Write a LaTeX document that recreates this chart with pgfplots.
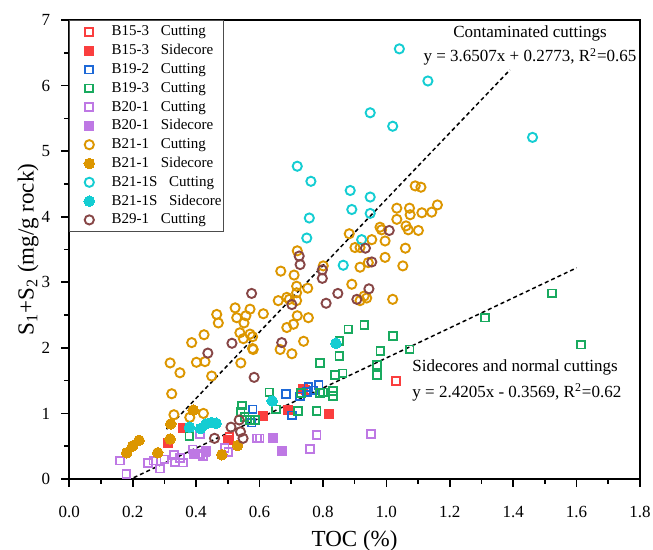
\documentclass[border=0pt]{standalone}
\usepackage{fontspec}
\setmainfont{Liberation Serif}
\usepackage{pgfplots}
\pgfplotsset{compat=1.18}

\definecolor{cRed}{RGB}{250,62,62}
\definecolor{cBlue}{RGB}{30,105,215}
\definecolor{cGreen}{RGB}{25,170,95}
\definecolor{cLav}{RGB}{190,120,228}
\definecolor{cOra}{RGB}{220,150,0}
\definecolor{cCya}{RGB}{20,205,210}
\definecolor{cBro}{RGB}{135,70,70}

\pgfplotsset{
  osq/.style={only marks, mark=square, mark size=1.95pt, color=#1, mark options={line width=0.9pt}},
  fsq/.style={only marks, mark=square*, mark size=2.25pt, color=#1, mark options={line width=0pt, fill=#1}},
  ocirc/.style={only marks, mark=o, mark size=2.3pt, color=#1, mark options={line width=0.95pt}},
  fcirc/.style={only marks, mark=*, mark size=2.65pt, color=#1, mark options={line width=0pt, fill=#1}},
}

\begin{document}
\begin{tikzpicture}
\begin{axis}[
    scale only axis,
    width=285.35pt, height=229.5pt,
    xmin=0, xmax=1.8, ymin=0, ymax=7,
    xtick={0,0.2,0.4,0.6,0.8,1.0,1.2,1.4,1.6,1.8},
    ytick={0,1,2,3,4,5,6,7},
    minor x tick num=1, minor y tick num=1,
    xtick pos=bottom, ytick pos=left,
    tick align=outside,
    major tick length=4pt, minor tick length=2.5pt,
    axis line style={line width=0.9pt},
    every tick/.style={black, line width=0.8pt},
    /pgf/number format/assume math mode=true,
    xticklabel style={yshift=-6pt, /pgf/number format/.cd, fixed, fixed zerofill, precision=1},
    yticklabel style={xshift=-2pt},
    every tick label/.append style={font=\fontsize{8.5}{10}\selectfont},
    xlabel={TOC (\%)},
    ylabel={S\textsubscript{1}+S\textsubscript{2} (mg/g rock)},
    every axis x label/.style={at={(axis description cs:0.5,-0.135)}, anchor=center, font=\fontsize{11.5}{13}\selectfont},
    every axis y label/.style={at={(axis description cs:-0.072,0.5)}, anchor=center, rotate=90, font=\fontsize{11.5}{13}\selectfont},
    legend image code/.code={\path (0pt,0pt) (19.4pt,0pt); \draw[#1] plot coordinates {(8.5pt,0pt)};},
    legend style={at={(0,1)}, anchor=north west, draw=black!70, line width=0.5pt,
      font=\fontsize{7.5}{9}\selectfont, inner xsep=1pt, inner ysep=2.2pt, row sep=2.4pt,
      nodes={inner sep=0pt, text height=5.5pt, text depth=1.5pt}},
    legend cell align=left,
]

\addplot[osq=cRed] coordinates {(1.031,1.49) (0.745,1.36) (0.505,0.64)};
\addlegendentry{B15-3\hspace{0.78em}Cutting}

\addplot[fsq=cRed] coordinates {(0.310,0.55) (0.358,0.78) (0.502,0.60) (0.612,0.965) (0.691,1.05) (0.738,1.38) (0.820,0.99)};
\addlegendentry{B15-3\hspace{0.78em}Sidecore}

\addplot[osq=cBlue] coordinates {(0.575,0.86) (0.578,1.06) (0.684,1.30) (0.702,0.97) (0.728,1.26) (0.750,1.33) (0.754,1.40) (0.770,1.35) (0.786,1.43)};
\addlegendentry{B19-2\hspace{0.78em}Cutting}

\addplot[osq=cGreen] coordinates {
  (0.379,0.65) (0.544,1.12) (0.540,1.02) (0.553,0.95) (0.570,0.90) (0.586,0.90)
  (0.631,1.32) (0.652,1.06) (0.722,1.04) (0.730,1.31) (0.780,1.04) (0.791,1.31)
  (0.801,1.32) (0.831,1.34) (0.831,1.27) (0.791,1.77) (0.838,1.59) (0.862,1.61)
  (0.852,1.88) (0.852,2.10) (0.880,2.28) (0.931,2.35) (0.970,1.59) (0.970,1.74)
  (0.981,1.95) (1.021,2.18) (1.073,1.975) (1.311,2.46) (1.522,2.83) (1.613,2.05)};
\addlegendentry{B19-3\hspace{0.78em}Cutting}

\addplot[osq=cLav] coordinates {
  (0.160,0.28) (0.180,0.08) (0.248,0.24) (0.265,0.28) (0.287,0.16) (0.300,0.30)
  (0.331,0.37) (0.333,0.26) (0.359,0.25) (0.349,0.32) (0.389,0.45) (0.412,0.68)
  (0.412,0.38) (0.421,0.35) (0.430,0.41) (0.490,0.47) (0.502,0.41) (0.592,0.62)
  (0.600,0.62) (0.759,0.46) (0.780,0.67) (0.951,0.69)};
\addlegendentry{B20-1\hspace{0.78em}Cutting}

\addplot[fsq=cLav] coordinates {(0.641,0.62) (0.670,0.42) (0.431,0.43) (0.392,0.38)};
\addlegendentry{B20-1\hspace{0.78em}Sidecore}

\addplot[ocirc=cOra] coordinates {
  (1.091,4.47) (1.109,4.45) (1.033,4.13) (1.073,4.13) (1.075,4.03) (1.112,4.06)
  (1.143,4.07) (1.161,4.18) (1.033,3.96) (1.062,3.86) (0.980,3.84) (0.985,3.80)
  (1.069,3.80) (1.101,3.79) (0.954,3.65) (0.996,3.63) (0.883,3.74) (0.901,3.53)
  (0.917,3.53) (1.060,3.52) (0.996,3.38) (0.943,3.30) (0.917,3.23) (1.052,3.25)
  (0.719,3.48) (0.667,3.17) (0.709,3.11) (0.717,2.94) (0.752,2.91) (0.801,3.25)
  (0.891,2.97) (0.930,2.79) (0.938,2.76) (0.917,2.72) (1.020,2.74) (0.717,2.72)
  (0.694,2.74) (0.659,2.72) (0.612,2.52) (0.719,2.49) (0.754,2.46) (0.707,2.36)
  (0.686,2.31) (0.739,2.10) (0.665,1.975) (0.702,1.91) (0.580,1.975) (0.686,2.77)
  (0.717,2.84) (0.570,2.59) (0.523,2.61) (0.465,2.51) (0.470,2.38) (0.528,2.46)
  (0.557,2.49) (0.551,2.38) (0.538,2.23) (0.570,2.21) (0.425,2.20) (0.386,2.08)
  (0.549,2.14) (0.578,2.17) (0.578,1.99) (0.318,1.77) (0.349,1.62) (0.401,1.78)
  (0.428,1.79) (0.449,1.57) (0.541,1.77) (0.323,1.30) (0.330,0.98) (0.380,0.94)
  (0.423,1.00)};
\addlegendentry{B21-1\hspace{0.78em}Cutting}

\addplot[fcirc=cOra] coordinates {(0.181,0.40) (0.200,0.505) (0.220,0.59) (0.279,0.40) (0.318,0.61) (0.320,0.84) (0.391,1.05) (0.481,0.37) (0.531,0.51)};
\addlegendentry{B21-1\hspace{0.78em}Sidecore}

\addplot[ocirc=cCya] coordinates {
  (1.041,6.56) (1.131,6.07) (0.949,5.585) (1.020,5.38) (1.461,5.21) (0.719,4.77)
  (0.762,4.54) (0.886,4.40) (0.949,4.30) (0.891,4.11) (0.949,4.05) (0.757,3.98)
  (0.749,3.675) (0.922,3.65) (0.864,3.26)};
\addlegendentry{B21-1S\hspace{0.78em}Cutting}

\addplot[fcirc=cCya] coordinates {(0.379,0.79) (0.414,0.77) (0.431,0.84) (0.449,0.86) (0.463,0.85) (0.640,1.19) (0.841,2.07)};
\addlegendentry{B21-1S\hspace{0.78em}Sidecore}

\addplot[ocirc=cBro] coordinates {
  (1.009,3.79) (0.934,3.52) (0.954,3.31) (0.725,3.40) (0.728,3.27) (0.798,3.19)
  (0.798,3.06) (0.847,2.83) (0.810,2.68) (0.945,2.90) (0.907,2.74) (0.702,2.66)
  (0.575,2.83) (0.670,2.08) (0.583,1.55) (0.513,2.07) (0.437,1.92) (0.510,0.79)
  (0.536,0.90) (0.540,0.72) (0.548,0.62) (0.458,0.62)};
\addlegendentry{B29-1\hspace{0.78em}Cutting}

% fitted trend lines
\addplot[forget plot, black, line width=0.75pt, dash pattern=on 2pt off 1.5pt] coordinates {(0.307,0.76) (1.39,6.24)};
\addplot[forget plot, black, line width=0.75pt, dash pattern=on 2pt off 1.5pt] coordinates {(0.203,0.02) (1.60,3.22)};

\node[font=\fontsize{8.5}{10}\selectfont] at (axis cs:1.453,6.80) {Contaminated cuttings};
\node[font=\fontsize{8.5}{10}\selectfont] at (axis cs:1.453,6.44) {y = 3.6507x + 0.2773, R\textsuperscript{2}=0.65};
\node[font=\fontsize{8.5}{10}\selectfont, anchor=west, inner sep=0pt] at (axis cs:1.081,1.70) {Sidecores and normal cuttings};
\node[font=\fontsize{8.5}{10}\selectfont, anchor=west, inner sep=0pt] at (axis cs:1.081,1.32) {y = 2.4205x - 0.3569, R\textsuperscript{2}=0.62};
\end{axis}
\pgfresetboundingbox
\path[use as bounding box] ([shift={(-34.65pt,-35.5pt)}]current axis.south west) rectangle ([shift={(6.5pt,10pt)}]current axis.north east);
\end{tikzpicture}
\end{document}
